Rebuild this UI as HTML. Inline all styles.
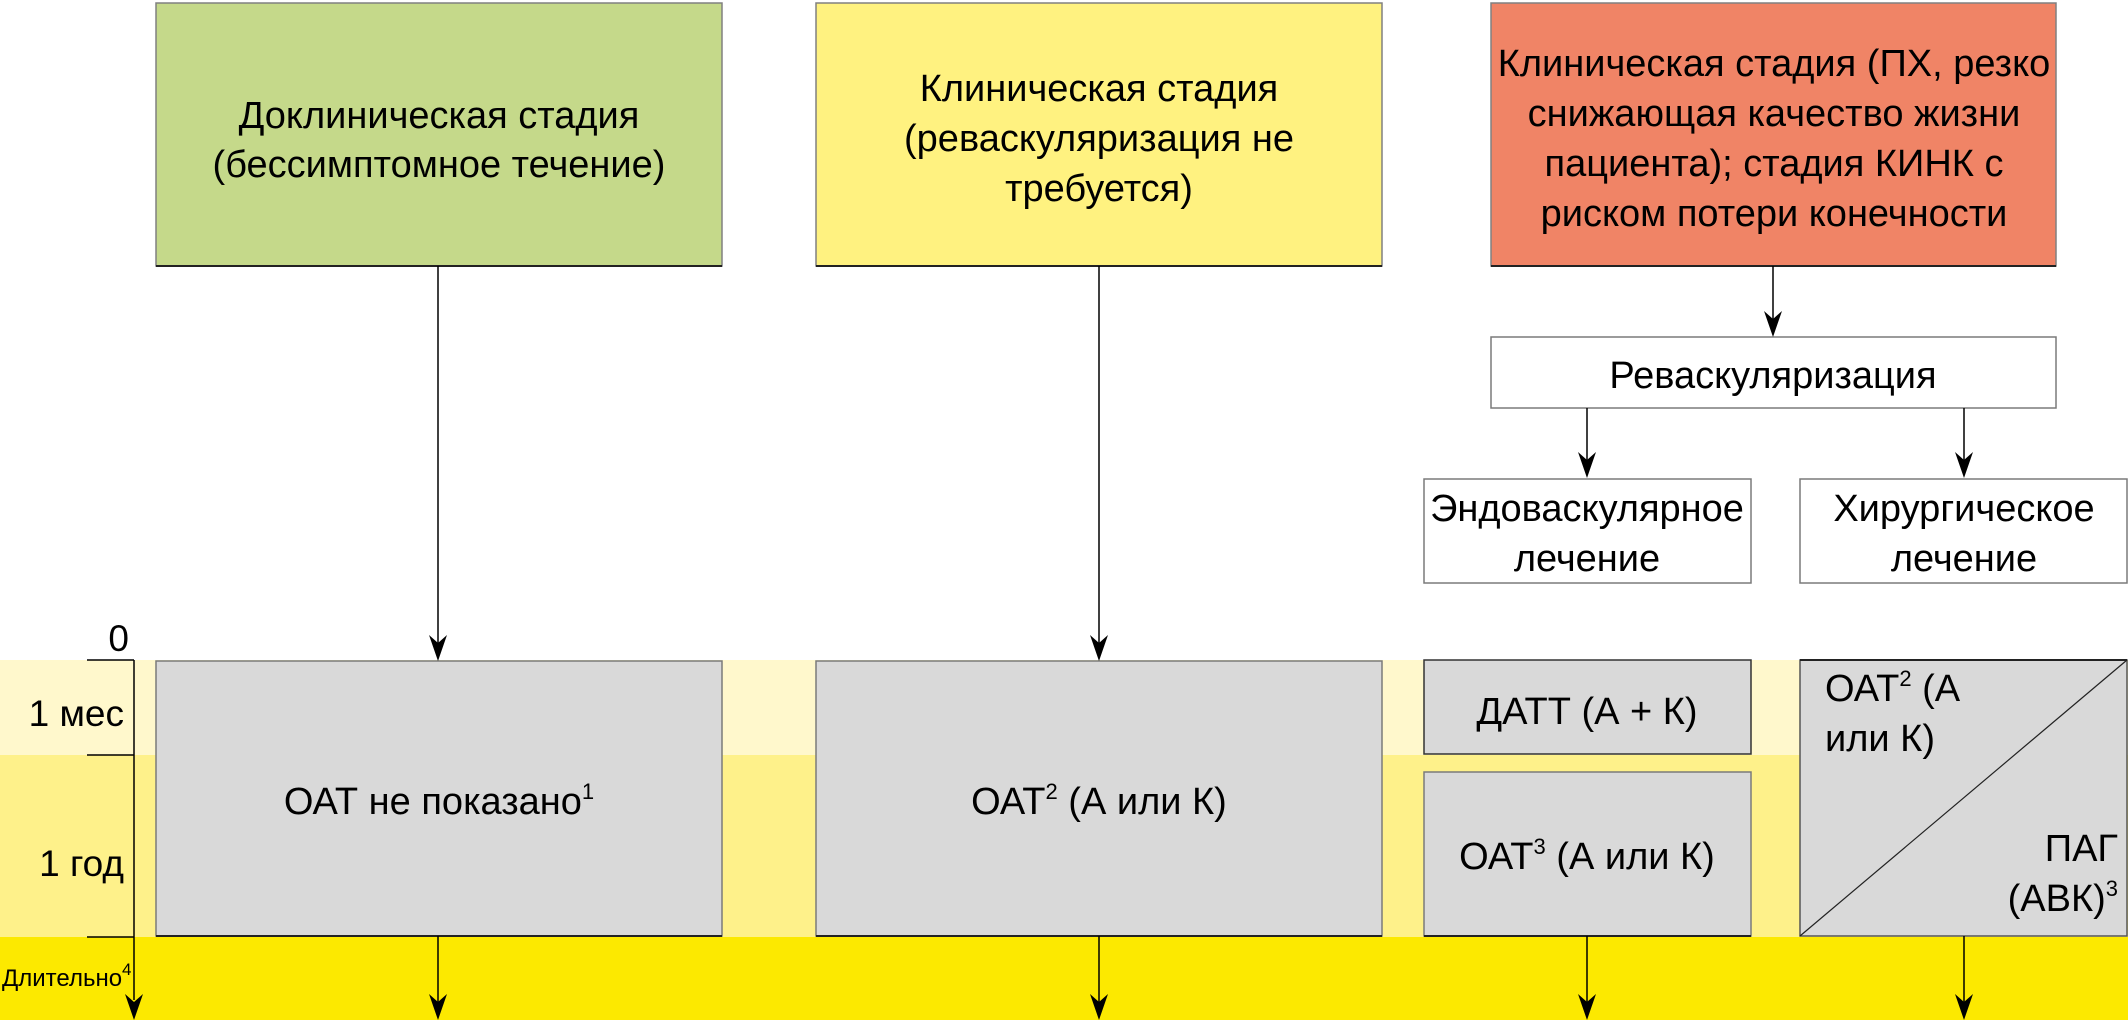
<!DOCTYPE html>
<html>
<head>
<meta charset="utf-8">
<style>
html,body{margin:0;padding:0;background:#fff;}
svg{display:block;}
text{font-family:"Liberation Sans","DejaVu Sans",sans-serif;fill:#000;}
</style>
</head>
<body>
<svg width="2128" height="1020" viewBox="0 0 2128 1020" xmlns="http://www.w3.org/2000/svg">
  <!-- bands -->
  <rect x="0" y="660" width="2128" height="95" fill="#FFF8CC"/>
  <rect x="0" y="755" width="2128" height="182" fill="#FEF18A"/>
  <rect x="0" y="937" width="2128" height="83" fill="#FCE900"/>

  <!-- top boxes -->
  <rect x="156" y="3" width="566" height="263" fill="#C5D98A" stroke="#808080" stroke-width="1.5"/>
  <line x1="156" y1="266" x2="722" y2="266" stroke="#222" stroke-width="2"/>
  <rect x="816" y="3" width="566" height="263" fill="#FFF280" stroke="#808080" stroke-width="1.5"/>
  <line x1="816" y1="266" x2="1382" y2="266" stroke="#222" stroke-width="2"/>
  <rect x="1491" y="3" width="565" height="263" fill="#F08466" stroke="#808080" stroke-width="1.5"/>
  <line x1="1491" y1="266" x2="2056" y2="266" stroke="#222" stroke-width="2"/>

  <!-- revascularization & treatment boxes -->
  <rect x="1491" y="337" width="565" height="71" fill="#fff" stroke="#7a7a7a" stroke-width="1.5"/>
  <rect x="1424" y="479" width="327" height="104" fill="#fff" stroke="#7a7a7a" stroke-width="1.5"/>
  <rect x="1800" y="479" width="327" height="104" fill="#fff" stroke="#7a7a7a" stroke-width="1.5"/>

  <!-- grey boxes -->
  <rect x="156" y="661" width="566" height="275" fill="#D9D9D9" stroke="#7a7a7a" stroke-width="1.5"/>
  <line x1="156" y1="936" x2="722" y2="936" stroke="#222" stroke-width="2"/>
  <rect x="816" y="661" width="566" height="275" fill="#D9D9D9" stroke="#7a7a7a" stroke-width="1.5"/>
  <line x1="816" y1="936" x2="1382" y2="936" stroke="#222" stroke-width="2"/>
  <rect x="1424" y="660" width="327" height="94" fill="#D9D9D9" stroke="#333" stroke-width="1.5"/>
  <rect x="1424" y="772" width="327" height="164" fill="#D9D9D9" stroke="#7a7a7a" stroke-width="1.5"/>
  <line x1="1424" y1="936" x2="1751" y2="936" stroke="#222" stroke-width="2"/>
  <rect x="1800" y="660" width="327" height="276" fill="#D9D9D9" stroke="#555" stroke-width="1.5"/>
  <line x1="1800" y1="660" x2="2127" y2="660" stroke="#222" stroke-width="2"/>
  <line x1="1800" y1="936" x2="2127" y2="660" stroke="#222" stroke-width="1.2"/>

  <!-- axis -->
  <line x1="134" y1="660" x2="134" y2="1000" stroke="#000" stroke-width="1.5"/>
  <line x1="87" y1="660" x2="134" y2="660" stroke="#000" stroke-width="1.5"/>
  <line x1="87" y1="755" x2="134" y2="755" stroke="#000" stroke-width="1.5"/>
  <line x1="87" y1="937" x2="134" y2="937" stroke="#000" stroke-width="1.5"/>
  <path d="M134,1020 L125,994 L134,1002 L143,994 Z" fill="#000"/>

  <!-- connectors -->
  <g stroke="#000" stroke-width="1.5">
    <line x1="438" y1="266" x2="438" y2="648"/>
    <line x1="1099" y1="266" x2="1099" y2="648"/>
    <line x1="1773" y1="266" x2="1773" y2="324"/>
    <line x1="1587" y1="408" x2="1587" y2="466"/>
    <line x1="1964" y1="408" x2="1964" y2="466"/>
    <line x1="438" y1="936" x2="438" y2="1004"/>
    <line x1="1099" y1="936" x2="1099" y2="1004"/>
    <line x1="1587" y1="936" x2="1587" y2="1004"/>
    <line x1="1964" y1="936" x2="1964" y2="1004"/>
  </g>
  <g fill="#000">
    <path d="M438,661 L429,635 L438,643 L447,635 Z"/>
    <path d="M1099,661 L1090,635 L1099,643 L1108,635 Z"/>
    <path d="M1773,337 L1764,311 L1773,319 L1782,311 Z"/>
    <path d="M1587,478 L1578,452 L1587,460 L1596,452 Z"/>
    <path d="M1964,478 L1955,452 L1964,460 L1973,452 Z"/>
    <path d="M438,1020 L429,994 L438,1002 L447,994 Z"/>
    <path d="M1099,1020 L1090,994 L1099,1002 L1108,994 Z"/>
    <path d="M1587,1020 L1578,994 L1587,1002 L1596,994 Z"/>
    <path d="M1964,1020 L1955,994 L1964,1002 L1973,994 Z"/>
  </g>

  <!-- top box texts -->
  <g font-size="38" text-anchor="middle">
    <text x="439" y="128">Доклиническая стадия</text>
    <text x="439" y="177">(бессимптомное течение)</text>

    <text x="1099" y="101">Клиническая стадия</text>
    <text x="1099" y="151">(реваскуляризация не</text>
    <text x="1099" y="201">требуется)</text>

    <text x="1774" y="76">Клиническая стадия (ПХ, резко</text>
    <text x="1774" y="126">снижающая качество жизни</text>
    <text x="1774" y="176">пациента); стадия КИНК с</text>
    <text x="1774" y="226">риском потери конечности</text>

    <text x="1773" y="388">Реваскуляризация</text>
    <text x="1587" y="521">Эндоваскулярное</text>
    <text x="1587" y="571">лечение</text>
    <text x="1964" y="521">Хирургическое</text>
    <text x="1964" y="571">лечение</text>

    <text x="439" y="814">ОАТ не показано<tspan font-size="22" dy="-15">1</tspan></text>
    <text x="1099" y="814">ОАТ<tspan font-size="22" dy="-15">2</tspan><tspan dy="15"> (А или К)</tspan></text>
    <text x="1587" y="724">ДАТТ (А + К)</text>
    <text x="1587" y="869">ОАТ<tspan font-size="22" dy="-15">3</tspan><tspan dy="15"> (А или К)</tspan></text>
  </g>

  <g font-size="38">
    <text x="1825" y="701">ОАТ<tspan font-size="22" dy="-15">2</tspan><tspan dy="15"> (А</tspan></text>
    <text x="1825" y="751">или К)</text>
  </g>
  <g font-size="38" text-anchor="end">
    <text x="2118" y="861">ПАГ</text>
    <text x="2118" y="911">(АВК)<tspan font-size="22" dy="-15">3</tspan></text>
  </g>

  <!-- axis labels -->
  <g font-size="37" text-anchor="end">
    <text x="129" y="651">0</text>
    <text x="124" y="726">1 мес</text>
    <text x="124" y="876">1 год</text>
  </g>
  <text x="2" y="986" font-size="24">Длительно<tspan font-size="17" dy="-11">4</tspan></text>
</svg>
</body>
</html>
